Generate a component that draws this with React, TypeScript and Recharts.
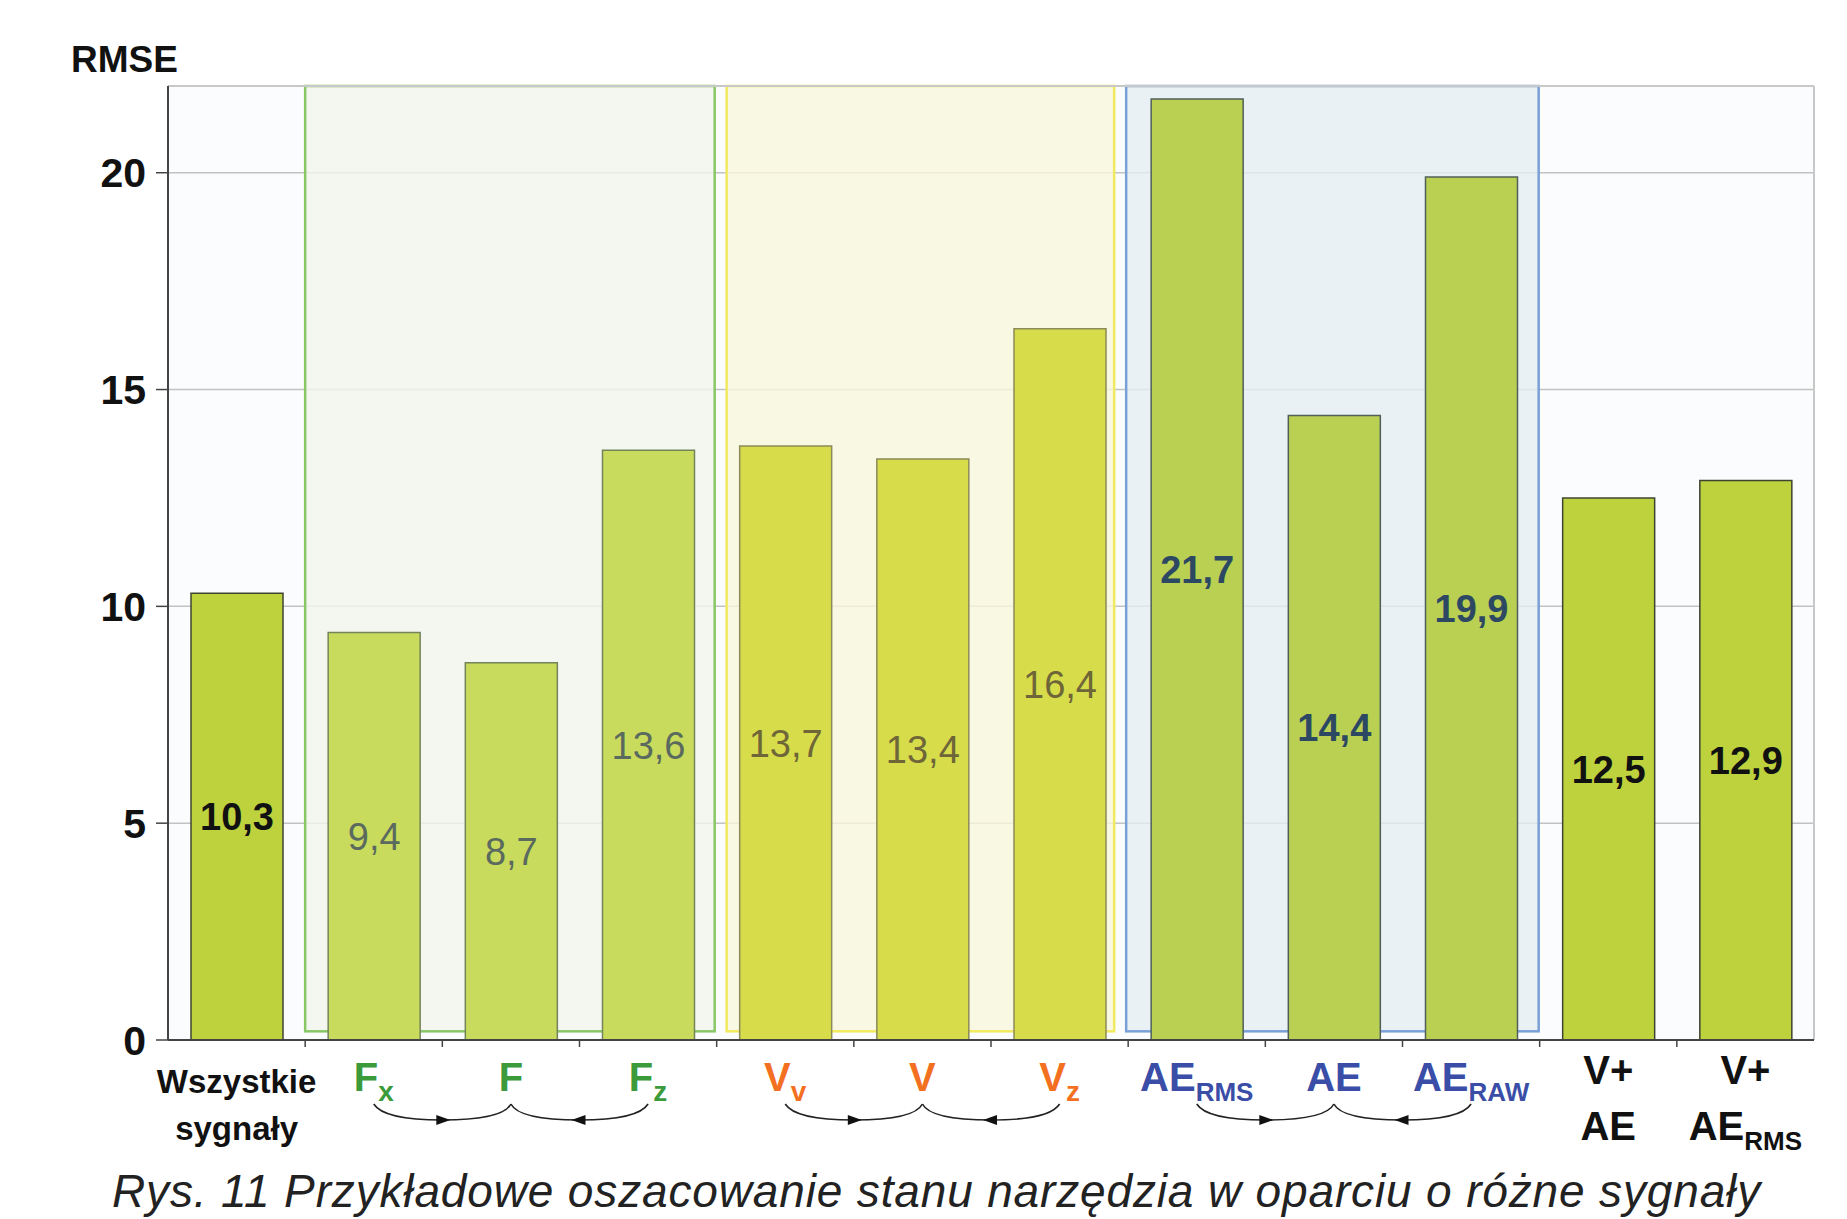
import React from 'react';
import {
  BarChart,
  Bar,
  XAxis,
  YAxis,
  CartesianGrid,
  ReferenceArea,
  ReferenceLine,
  LabelList,
  Cell
} from 'recharts';

const categories = [
  'Wszystkie sygnały',
  'Fx',
  'F',
  'Fz',
  'Vv',
  'V',
  'Vz',
  'AE RMS',
  'AE',
  'AE RAW',
  'V+ AE',
  'V+ AE RMS'
];
const rmse = [10.3, 9.4, 8.7, 13.6, 13.7, 13.4, 16.4, 21.7, 14.4, 19.9, 12.5, 12.9];
const yTicks = [0, 5, 10, 15, 20];

// axis label lines per category; the subscript goes on the last line
const tickLines = [
  ['Wszystkie', 'sygnały'],
  ['F'],
  ['F'],
  ['F'],
  ['V'],
  ['V'],
  ['V'],
  ['AE'],
  ['AE'],
  ['AE'],
  ['V+', 'AE'],
  ['V+', 'AE']
];
const tickSubs = ['', 'x', '', 'z', 'v', '', 'z', 'RMS', '', 'RAW', '', 'RMS'];
// 0 = combined signals, 1 = force, 2 = vibration, 3 = acoustic emission
const signalGroup = [0, 1, 1, 1, 2, 2, 2, 3, 3, 3, 0, 0];

const data = categories.map((name, i) => ({ name, rmse: rmse[i], group: signalGroup[i] }));

const FONT = '"Liberation Sans", Arial, Helvetica, sans-serif';
const WIDTH = 1847;
const HEIGHT = 1219;
const MARGIN = { top: 86, right: 33, left: 0, bottom: 0 };
const Y_AXIS_W = 168;
const X_AXIS_H = 179;
const BAND = (WIDTH - MARGIN.right - Y_AXIS_W) / categories.length;

const groupStyle = [
  { bar: '#bdd23d', stroke: '#3f4430', value: '#111111', weight: 700, tick: '#111111' },
  { bar: '#c9db5c', stroke: '#74845a', value: '#5b6a5e', weight: 400, tick: '#3b9b3b' },
  { bar: '#d7dc4a', stroke: '#8c8a58', value: '#6e6638', weight: 400, tick: '#f2701f' },
  { bar: '#b9d053', stroke: '#505f58', value: '#2d4862', weight: 700, tick: '#3a4ea8' }
];

const boxes = [
  { from: 'Fx', to: 'Fz', fill: '#f2f5ec', stroke: '#88c766', padL: 0, padR: 2 },
  { from: 'Vv', to: 'Vz', fill: '#f9f6dc', stroke: '#f2ea5e', padL: 10, padR: 14 },
  { from: 'AE RMS', to: 'AE RAW', fill: '#e5edf1', stroke: '#7aa0d8', padL: -2, padR: 1 }
];

const formatValue = (v: number) => v.toFixed(1).replace('.', ',');

const makeBoxShape = (padL: number, padR: number) => (props: any) => {
  const { x, y, width, height, fill, stroke } = props;
  return (
    <rect
      x={x + padL}
      y={y}
      width={width - padL - padR}
      height={height}
      fill={fill}
      fillOpacity={0.8}
      stroke={stroke}
      strokeWidth={2.5}
    />
  );
};

const ValueLabel = (props: any) => {
  const { x, y, width, height, value, index } = props;
  const st = groupStyle[signalGroup[index] ?? 0];
  return (
    <text
      x={x + width / 2}
      y={y + height / 2}
      dy="0.36em"
      textAnchor="middle"
      fontFamily={FONT}
      fontSize={38}
      fontWeight={st.weight}
      fill={st.value}
    >
      {formatValue(value)}
    </text>
  );
};

// middle member of a three-signal group gets the brace with arrows
const isBraceCenter = (i: number) =>
  signalGroup[i] > 0 && signalGroup[i - 1] === signalGroup[i] && signalGroup[i + 1] === signalGroup[i];

const SignalTick = (props: any) => {
  const { x, y, payload } = props;
  const i = payload.index ?? categories.indexOf(payload.value);
  const lines = tickLines[i];
  const sub = tickSubs[i];
  const st = groupStyle[signalGroup[i]];
  const twoLines = lines.length > 1;
  const isAll = i === 0;
  const fontSize = isAll ? 33 : 40;
  const baselines = twoLines ? [isAll ? 53 : 44, 100] : [51];

  const top = y + 64;
  const low = y + 80;
  const half = BAND / 2;

  return (
    <g>
      {i < categories.length - 1 && (
        <line x1={x + half} x2={x + half} y1={y} y2={y + 7} stroke="#444" strokeWidth={1.5} />
      )}
      {lines.map((line, k) => (
        <text
          key={k}
          x={x}
          y={y + baselines[k]}
          textAnchor="middle"
          fontFamily={FONT}
          fontSize={fontSize}
          fontWeight={700}
          fill={st.tick}
        >
          <tspan>{line}</tspan>
          {k === lines.length - 1 && sub && (
            <tspan fontSize={sub.length > 1 ? 26 : 28} dy={10}>
              {sub}
            </tspan>
          )}
        </text>
      ))}
      {isBraceCenter(i) && (
        <g stroke="#222" strokeWidth={1.6} fill="none">
          <path d={`M ${x - BAND} ${top} Q ${x - BAND + 10} ${low} ${x - half} ${low} Q ${x - 8} ${low} ${x} ${top}`} />
          <path d={`M ${x + BAND} ${top} Q ${x + BAND - 10} ${low} ${x + half} ${low} Q ${x + 8} ${low} ${x} ${top}`} />
          <polygon
            points={`${x - half + 8},${low} ${x - half - 6},${low - 5} ${x - half - 6},${low + 5}`}
            fill="#111"
            stroke="none"
          />
          <polygon
            points={`${x + half - 8},${low} ${x + half + 6},${low - 5} ${x + half + 6},${low + 5}`}
            fill="#111"
            stroke="none"
          />
        </g>
      )}
    </g>
  );
};

export default function App() {
  return (
    <div
      style={{
        position: 'absolute',
        left: 0,
        top: 0,
        width: WIDTH,
        height: HEIGHT,
        background: '#ffffff',
        overflow: 'hidden'
      }}
    >
      <div
        style={{
          position: 'absolute',
          left: 71,
          top: 41,
          fontFamily: FONT,
          fontSize: 37,
          lineHeight: '37px',
          fontWeight: 700,
          color: '#111'
        }}
      >
        RMSE
      </div>
      <BarChart width={WIDTH} height={HEIGHT} data={data} margin={MARGIN} barSize={92}>
        <CartesianGrid vertical={false} stroke="#c2c2c2" strokeWidth={1.5} fill="#fafcfd" />
        <ReferenceLine y={22} stroke="#c8c8c8" strokeWidth={2} />
        <ReferenceLine x={categories[categories.length - 1]} position="end" stroke="#c8c8c8" strokeWidth={2} />
        {boxes.map(b => (
          <ReferenceArea
            key={b.from}
            x1={b.from}
            x2={b.to}
            y1={0.2}
            y2={22}
            fill={b.fill}
            stroke={b.stroke}
            shape={makeBoxShape(b.padL, b.padR)}
          />
        ))}
        <XAxis
          dataKey="name"
          interval={0}
          height={X_AXIS_H}
          tickLine={false}
          tickSize={0}
          tickMargin={0}
          axisLine={{ stroke: '#444', strokeWidth: 2 }}
          tick={<SignalTick />}
        />
        <YAxis
          width={Y_AXIS_W}
          domain={[0, 22]}
          ticks={yTicks}
          interval={0}
          tickSize={12}
          tickMargin={10}
          tickLine={{ stroke: '#444', strokeWidth: 1.5 }}
          axisLine={{ stroke: '#444', strokeWidth: 2 }}
          tick={{ fontFamily: FONT, fontSize: 41, fontWeight: 700, fill: '#111' }}
        />
        <Bar dataKey="rmse" isAnimationActive={false}>
          {data.map((d, i) => (
            <Cell key={i} fill={groupStyle[d.group].bar} stroke={groupStyle[d.group].stroke} strokeWidth={1.5} />
          ))}
          <LabelList dataKey="rmse" content={<ValueLabel />} />
        </Bar>
      </BarChart>
      <div
        style={{
          position: 'absolute',
          left: 112,
          top: 1168,
          fontFamily: FONT,
          fontSize: 46,
          lineHeight: '46px',
          fontStyle: 'italic',
          letterSpacing: 0.85,
          whiteSpace: 'nowrap',
          color: '#222'
        }}
      >
        Rys. 11 Przykładowe oszacowanie stanu narzędzia w oparciu o różne sygnały
      </div>
    </div>
  );
}
